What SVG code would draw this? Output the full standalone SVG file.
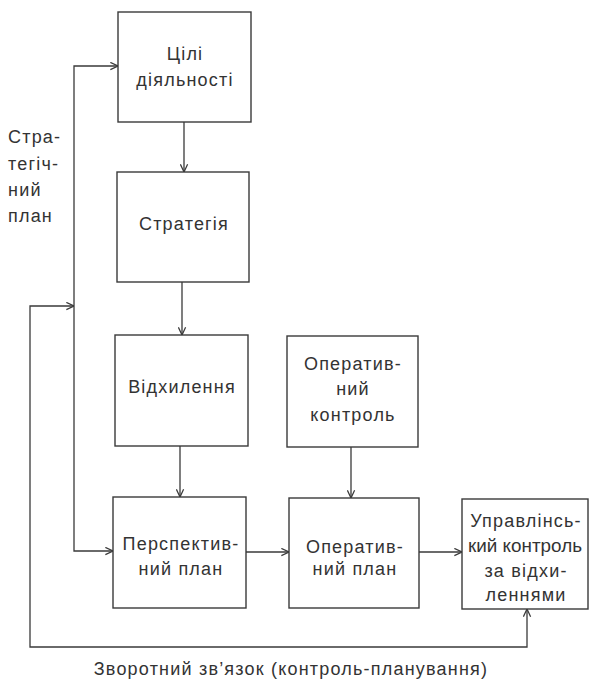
<svg xmlns="http://www.w3.org/2000/svg" width="590" height="685" viewBox="0 0 590 685">
<style>
.box{fill:#fff;stroke:#3a3a3a;stroke-width:1.4}
.ln{fill:none;stroke:#3a3a3a;stroke-width:1.3}
text{font-family:"Liberation Sans","DejaVu Sans",sans-serif;font-size:18px;letter-spacing:1.2px;fill:#333}
.c{text-anchor:middle}
.tight{letter-spacing:0}
</style>
<defs>
<marker id="ah" viewBox="0 0 10 10" refX="9.5" refY="5" markerWidth="9" markerHeight="9" markerUnits="userSpaceOnUse" orient="auto-start-reverse">
<path d="M1,1 L9.5,5 L1,9" fill="none" stroke="#3a3a3a" stroke-width="1.4"/>
</marker>
</defs>
<rect width="590" height="685" fill="#fff"/>
<g id="connectors">
<path class="ln" d="M184,122 V172" marker-end="url(#ah)"/>
<path class="ln" d="M182,282 V335" marker-end="url(#ah)"/>
<path class="ln" d="M180,446 V497" marker-end="url(#ah)"/>
<path class="ln" d="M351,447 V498" marker-end="url(#ah)"/>
<path class="ln" d="M246,552 H289" marker-end="url(#ah)"/>
<path class="ln" d="M419,552 H462" marker-end="url(#ah)"/>
<path class="ln" d="M118,66 H74 V551 H113" marker-start="url(#ah)" marker-end="url(#ah)"/>
<path class="ln" d="M74,306 H30 V647 H527 V609" marker-start="url(#ah)" marker-end="url(#ah)"/>
</g>
<g id="label-strategic">
<text x="8" y="143">Стра-</text>
<text x="8" y="170">тегіч-</text>
<text x="8" y="196">ний</text>
<text x="8" y="222">план</text>
</g>
<g id="goals">
<rect class="box" x="118" y="12" width="133" height="110"/>
<text class="c" x="185" y="60">Цілі</text>
<text class="c" x="185" y="86">діяльності</text>
</g>
<g id="strategy">
<rect class="box" x="117" y="172" width="132" height="110"/>
<text class="c" x="184" y="230">Стратегія</text>
</g>
<g id="deviation">
<rect class="box" x="115" y="335" width="133" height="111"/>
<text class="c" x="182" y="393">Відхилення</text>
</g>
<g id="op-control">
<rect class="box" x="287" y="336" width="131" height="111"/>
<text class="c" x="353" y="370">Оператив-</text>
<text class="c" x="353" y="395">ний</text>
<text class="c" x="353" y="421">контроль</text>
</g>
<g id="perspective">
<rect class="box" x="113" y="497" width="133" height="111"/>
<text class="c" x="181" y="550">Перспектив-</text>
<text class="c" x="181" y="575">ний план</text>
</g>
<g id="op-plan">
<rect class="box" x="289" y="498" width="130" height="110"/>
<text class="c" x="355" y="553">Оператив-</text>
<text class="c" x="355" y="575">ний план</text>
</g>
<g id="mgmt-control">
<rect class="box" x="462" y="499" width="126" height="110"/>
<text class="c" x="526" y="527">Управлінсь-</text>
<text class="c tight" x="525" y="552" textLength="114" lengthAdjust="spacingAndGlyphs">кий контроль</text>
<text class="c" x="526" y="577">за відхи-</text>
<text class="c" x="526" y="601">леннями</text>
</g>
<g id="label-feedback">
<text class="c" x="291" y="675">Зворотний зв’язок (контроль-планування)</text>
</g>
</svg>
